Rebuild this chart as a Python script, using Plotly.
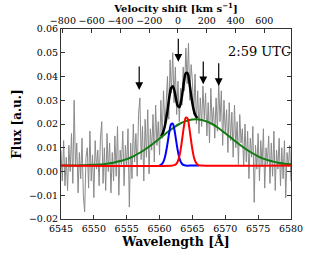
import numpy as np
import plotly.graph_objects as go

# ---------------- data ----------------
wl_start, wl_step = 6545.0, 0.2
flux_obs = [
    0.009, -0.004, 0.013, -0.006, 0.006, -0.008, 0.011, 0.000, 0.016, -0.005,
    0.030, 0.002, 0.012, -0.009, 0.008, -0.003, 0.014, -0.010, -0.017, 0.006,
    0.010, -0.007, 0.017, -0.004, 0.007, -0.011, 0.013, 0.001, 0.009, -0.006,
    0.014, 0.021, -0.005, 0.010, -0.008, 0.016, 0.000, 0.012, -0.009, 0.008,
    -0.004, 0.015, -0.002, 0.019, -0.010, 0.009, 0.003, 0.017, -0.006, 0.011,
    0.002, 0.018, -0.015, 0.012, -0.003, 0.020, 0.004, 0.016, -0.002, 0.024,
    0.031, 0.005, 0.019, -0.004, 0.022, 0.006, 0.026, -0.001, 0.018, 0.009,
    0.024, 0.004, 0.028, 0.011, 0.021, 0.007, 0.030, 0.014, 0.034, 0.019,
    0.028, 0.040, 0.022, 0.047, 0.033, 0.050, 0.029, 0.044, 0.024, 0.038,
    0.021, 0.035, 0.028, 0.044, 0.034, 0.052, 0.037, 0.054, 0.030, 0.045,
    0.038, 0.024, 0.041, 0.020, 0.034, 0.016, 0.031, 0.019, 0.036, 0.022,
    0.033, 0.015, 0.029, 0.012, 0.035, 0.020, 0.027, 0.014, 0.031, 0.017,
    0.037, 0.021, 0.034, 0.011, 0.030, 0.016, 0.026, 0.008, 0.029, 0.013,
    0.025, 0.006, 0.028, 0.010, 0.021, 0.003, 0.024, 0.012, 0.018, 0.002,
    0.020, 0.004, 0.017, -0.003, 0.014, 0.006, 0.019, -0.013, 0.011, 0.001,
    0.016, -0.004, 0.013, 0.002, 0.018, -0.007, 0.010, 0.003, 0.015, -0.005,
    0.012, -0.002, 0.017, -0.008, 0.009, 0.001, 0.014, -0.006, 0.010, -0.003,
    0.013, -0.011, 0.008, 0.002, 0.011, -0.004,
]
wl_obs = np.round(wl_start + wl_step * np.arange(len(flux_obs)), 2)

# broad component (green)
green_wl = [6545, 6546, 6547, 6548, 6549, 6550, 6551, 6552, 6553, 6554, 6555, 6556,
            6557, 6558, 6559, 6560, 6561, 6562, 6563, 6564, 6565, 6566, 6567, 6568,
            6569, 6570, 6571, 6572, 6573, 6574, 6575, 6576, 6577, 6578, 6579, 6580]
green_flux = [0.0025, 0.0025, 0.0025, 0.0026, 0.0027, 0.0028, 0.0030, 0.0033, 0.0037,
              0.0044, 0.0052, 0.0064, 0.0079, 0.0097, 0.0117, 0.0139, 0.0161, 0.0182,
              0.0200, 0.0212, 0.0219, 0.0219, 0.0212, 0.0200, 0.0182, 0.0161, 0.0139,
              0.0117, 0.0097, 0.0079, 0.0064, 0.0052, 0.0044, 0.0037, 0.0033, 0.0030]

# narrow blue component
blue_wl = [6560.0, 6560.25, 6560.5, 6560.75, 6561.0, 6561.25, 6561.5, 6561.75, 6562.0,
           6562.25, 6562.5, 6562.75, 6563.0, 6563.25, 6563.5, 6563.75, 6564.0, 6565.0, 6566.0]
blue_flux = [0.0026, 0.0029, 0.0037, 0.0054, 0.0084, 0.0125, 0.0169, 0.0199, 0.0202,
             0.0177, 0.0134, 0.0091, 0.0058, 0.0039, 0.0030, 0.0027, 0.0025, 0.0025, 0.0025]

# narrow red component
red_wl = [6545.0, 6562.0, 6562.25, 6562.5, 6562.75, 6563.0, 6563.25, 6563.5, 6563.75,
          6564.0, 6564.25, 6564.5, 6564.75, 6565.0, 6565.25, 6565.5, 6565.75, 6566.0,
          6566.25, 6580.0]
red_flux = [0.0025, 0.0025, 0.0027, 0.0031, 0.0041, 0.0063, 0.0100, 0.0149, 0.0198,
            0.0227, 0.0224, 0.0189, 0.0139, 0.0092, 0.0058, 0.0039, 0.0030, 0.0026,
            0.0025, 0.0025]

# total model (black)
total_wl = [6560.25, 6560.5, 6560.75, 6561.0, 6561.25, 6561.5, 6561.75, 6562.0, 6562.25,
            6562.5, 6562.75, 6563.0, 6563.25, 6563.5, 6563.75, 6564.0, 6564.25, 6564.5,
            6564.75, 6565.0, 6565.25, 6565.5, 6565.75]
total_flux = [0.0148, 0.0162, 0.0185, 0.0220, 0.0266, 0.0316, 0.0351, 0.0359, 0.0341,
              0.0306, 0.0277, 0.0271, 0.0292, 0.0336, 0.0385, 0.0414, 0.0414, 0.0381,
              0.0332, 0.0286, 0.0253, 0.0234, 0.0225]

# arrows
arrow_wl = [6556.9, 6562.85, 6566.65, 6569.0]
arrow_tip = [0.0343, 0.0462, 0.0367, 0.0360]
arrow_tail = [0.0448, 0.0565, 0.0470, 0.0462]

x_range = [6545, 6580]
y_range = [-0.02, 0.06]
x_ticks = [6545, 6550, 6555, 6560, 6565, 6570, 6575, 6580]
y_ticks = [-0.02, -0.01, 0.00, 0.01, 0.02, 0.03, 0.04, 0.05, 0.06]
v_ticks = [-800, -600, -400, -200, 0, 200, 400, 600]
rest_wl = 6562.8
c_kms = 299792.458
label_text = "2:59 UTC"

# ---------------- figure ----------------
FONT = "DejaVu Serif"
v_range = [(x_range[0] - rest_wl) / rest_wl * c_kms, (x_range[1] - rest_wl) / rest_wl * c_kms]

fig = go.Figure()
fig.add_trace(go.Scatter(x=wl_obs, y=flux_obs, mode="lines",
                         line=dict(color="#8a8a8a", width=1), hoverinfo="skip"))
fig.add_trace(go.Scatter(x=total_wl, y=total_flux, mode="lines",
                         line=dict(color="black", width=2.5, shape="spline")))
fig.add_trace(go.Scatter(x=green_wl, y=green_flux, mode="lines",
                         line=dict(color="#107a10", width=2, shape="spline")))
fig.add_trace(go.Scatter(x=blue_wl, y=blue_flux, mode="lines",
                         line=dict(color="#0000ff", width=2, shape="spline")))
fig.add_trace(go.Scatter(x=red_wl, y=red_flux, mode="lines",
                         line=dict(color="#ff0000", width=2, shape="spline")))
fig.add_trace(go.Scatter(x=v_range, y=[None, None], xaxis="x2", mode="lines",
                         hoverinfo="skip", showlegend=False))

for xw, yt, yb in zip(arrow_wl, arrow_tip, arrow_tail):
    fig.add_annotation(x=xw, y=yt, ax=xw, ay=yb, xref="x", yref="y", axref="x", ayref="y",
                       showarrow=True, arrowhead=2, arrowsize=1.3, arrowwidth=1.2,
                       arrowcolor="black", text="")

fig.add_annotation(x=1.01, y=0.0505, xref="paper", yref="y", xanchor="right", yanchor="middle",
                   text=label_text, showarrow=False,
                   font=dict(family=FONT, size=13, color="black"))

axis_common = dict(showgrid=False, zeroline=False, ticks="inside", ticklen=4,
                   tickcolor="#333", linecolor="#333", linewidth=1.2, showline=True,
                   automargin=False,
                   tickfont=dict(family=FONT, size=9.5, color="black"))

fig.update_layout(
    width=311, height=256,
    margin=dict(l=61, r=20, t=29, b=37),
    paper_bgcolor="white", plot_bgcolor="white",
    showlegend=False,
    font=dict(family=FONT),
    xaxis=dict(range=x_range, tickvals=x_ticks, tickformat="d", mirror=True,
               title=dict(text="<b>Wavelength [Å]</b>", font=dict(family=FONT, size=12.5, color="black"),
                          standoff=2),
               **axis_common),
    xaxis2=dict(range=v_range, tickvals=v_ticks, overlaying="x", side="top",
                title=dict(text="<b>Velocity shift [km s<sup>−1</sup>]</b>",
                           font=dict(family=FONT, size=10, color="black"), standoff=0),
                **axis_common),
    yaxis=dict(range=y_range, tickvals=y_ticks, tickformat=".2f", mirror="ticks",
               title=dict(text="<b>Flux [a.u.]</b>", font=dict(family=FONT, size=12, color="black"),
                          standoff=4),
               **axis_common),
)

fig.write_html("out.html", config={"displayModeBar": False},
               post_script="document.body.style.margin='0px';")
